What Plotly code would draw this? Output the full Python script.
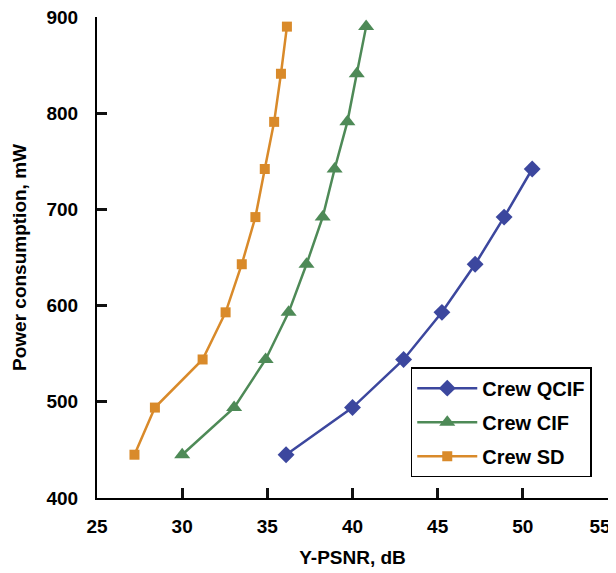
import plotly.graph_objects as go

power = [445, 494, 544, 593, 643, 692, 742, 791, 841, 890]

qcif_psnr = [36.1, 40.0, 43.0, 45.25, 47.2, 48.9, 50.55]
cif_psnr = [30.0, 33.05, 34.9, 36.25, 37.3, 38.25, 38.95, 39.7, 40.25, 40.8]
sd_psnr = [27.2, 28.4, 31.2, 32.55, 33.5, 34.3, 34.85, 35.4, 35.8, 36.15]

series_names = ["Crew QCIF", "Crew CIF", "Crew SD"]
x_ticks = [25, 30, 35, 40, 45, 50, 55]
y_ticks = [400, 500, 600, 700, 800, 900]

# last x label nudged left (as in the reference, where it sits at the edge)
x_ticktext = [str(v) for v in x_ticks[:-1]] + [str(x_ticks[-1]) + "\u00a0\u00a0\u00a0"]

FONT = "Liberation Sans, Arial, sans-serif"

fig = go.Figure()
fig.add_trace(go.Scatter(
    x=qcif_psnr, y=power[:len(qcif_psnr)], name=series_names[0], mode="lines+markers",
    line=dict(color="#3C479E", width=2.5),
    marker=dict(symbol="diamond", size=13, color="#3C479E"),
    legendgroup="a"))
fig.add_trace(go.Scatter(
    x=cif_psnr, y=power[:len(cif_psnr)], name=series_names[1], mode="lines+markers",
    line=dict(color="#4E8A57", width=2.5),
    marker=dict(symbol="triangle-up", size=14, color="#4E8A57"),
    legendgroup="b"))
fig.add_trace(go.Scatter(
    x=sd_psnr, y=power[:len(sd_psnr)], name=series_names[2], mode="lines+markers",
    line=dict(color="#D98A2A", width=2.5),
    marker=dict(symbol="square", size=10, color="#D98A2A"),
    legendgroup="c"))

axis_common = dict(
    showline=True, linecolor="black", linewidth=2,
    ticks="inside", ticklen=10, tickwidth=2.5, tickcolor="#111111",
    showgrid=False, zeroline=False, automargin=False,
    ticklabeloverflow="allow",
    tickfont=dict(family=FONT, size=19, color="black", weight="bold"),
)

fig.update_layout(
    width=608, height=565,
    margin=dict(l=89, r=8, t=9, b=75),
    plot_bgcolor="white", paper_bgcolor="white",
    xaxis=dict(range=[25, 55], tickvals=x_ticks, ticktext=x_ticktext, ticklabelstandoff=10,
               title=dict(text="Y-PSNR, dB", font=dict(family=FONT, size=19, color="black", weight="bold"), standoff=15),
               **axis_common),
    yaxis=dict(range=[400, 900], tickvals=y_ticks, ticklabelstandoff=13,
               title=dict(text="Power consumption, mW", font=dict(family=FONT, size=19, color="black", weight="bold"), standoff=15),
               **axis_common),
    legend=dict(x=0.614, y=0.272, xanchor="left", yanchor="top",
                bgcolor="white", bordercolor="black", borderwidth=1.5,
                font=dict(family=FONT, size=20, color="black", weight="bold"),
                tracegroupgap=5, itemwidth=60),
    showlegend=True,
)

fig.write_html("out.html")
